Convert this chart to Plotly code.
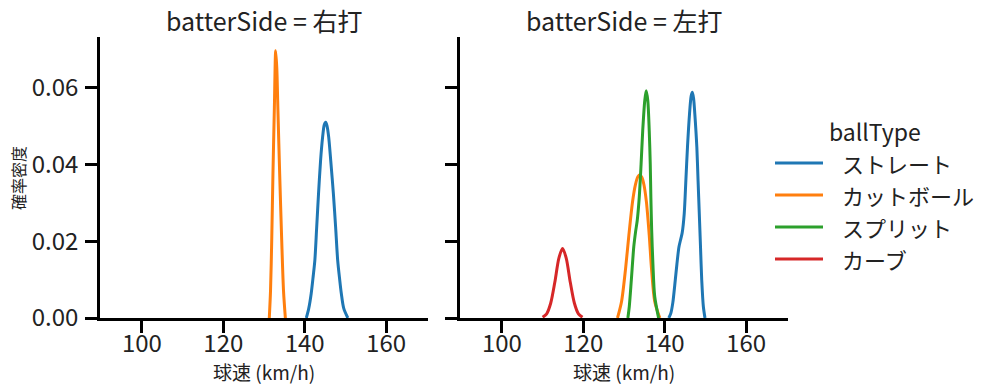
import plotly.graph_objects as go

# ---------------- data ----------------
panels = ["右打", "左打"]
ball_types = ["ストレート", "カットボール", "スプリット", "カーブ"]
colors = ["#1f77b4", "#ff7f0e", "#2ca02c", "#d62728"]

# batterSide = 右打
r_straight_x = [140.4, 141.0, 141.6, 142.1, 142.5, 142.95, 143.4, 143.9, 144.4, 144.8, 145.16,
                145.5, 145.9, 146.4, 147.05, 147.6, 148.1, 148.6, 149.0, 149.6, 150.6]
r_straight_y = [0.0, 0.0025, 0.0064, 0.0110, 0.0151, 0.0237, 0.0324, 0.0410, 0.0471, 0.0503, 0.0510,
                0.0500, 0.0471, 0.0410, 0.0324, 0.0237, 0.0151, 0.0100, 0.0064, 0.0025, 0.0]
r_cut_x = [131.3, 131.6, 131.9, 132.2, 132.55, 132.87, 133.15, 133.4, 133.85, 134.35, 134.8, 135.25]
r_cut_y = [0.0, 0.0070, 0.0203, 0.0376, 0.0549, 0.0696, 0.0650, 0.0549, 0.0376, 0.0203, 0.0070, 0.0]

# batterSide = 左打
l_straight_x = [141.0, 141.5, 142.0, 142.6, 143.0, 143.5, 144.0, 144.3, 144.8, 145.2, 145.6, 146.1,
                146.5, 146.8, 147.1, 147.4, 147.9, 148.2, 148.5, 148.8, 149.1, 149.5, 149.9]
l_straight_y = [0.0, 0.0012, 0.0040, 0.0099, 0.0140, 0.0185, 0.0208, 0.0222, 0.0272, 0.0358, 0.0445, 0.0532,
                0.0578, 0.0588, 0.0572, 0.0532, 0.0445, 0.0358, 0.0272, 0.0185, 0.0099, 0.0030, 0.0]
l_cut_x = [128.4, 129.4, 130.4, 131.2, 132.1, 132.8, 133.4, 133.9, 134.4, 134.9, 135.5, 136.2, 136.75, 137.55, 138.8]
l_cut_y = [0.0, 0.0043, 0.0130, 0.0216, 0.0303, 0.0347, 0.0368, 0.0373, 0.0366, 0.0347, 0.0303, 0.0216, 0.0130, 0.0043, 0.0]
l_split_x = [130.95, 131.3, 131.8, 132.4, 132.85, 133.25, 133.75, 134.2, 134.6, 135.1, 135.45,
             135.85, 136.2, 136.45, 136.6, 136.8, 137.1, 137.55, 138.5]
l_split_y = [0.0, 0.0030, 0.0099, 0.0185, 0.0225, 0.0254, 0.0315, 0.0401, 0.0488, 0.0566, 0.0592,
             0.0566, 0.0488, 0.0401, 0.0315, 0.0229, 0.0142, 0.0056, 0.0]
l_curve_x = [110.0, 111.0, 112.0, 113.0, 114.0, 114.9, 115.8, 116.8, 117.8, 118.8, 119.8]
l_curve_y = [0.0002, 0.0011, 0.0039, 0.0093, 0.0156, 0.0181, 0.0156, 0.0093, 0.0039, 0.0011, 0.0002]

x_ticks = [100, 120, 140, 160]
y_ticks = [0.0, 0.02, 0.04, 0.06]

# ---------------- figure ----------------
W, H = 997, 391
ML, MR, MT, MB = 100, 209, 37, 73
PW, PH = W - ML - MR, H - MT - MB
FONT = "Noto Sans CJK JP"


def px2x(px):
    return (px - ML) / PW


def px2y(py):
    return (H - MB - py) / PH


series = [
    ("x", "y", r_straight_x, r_straight_y, 0),
    ("x", "y", r_cut_x, r_cut_y, 1),
    ("x2", "y2", l_straight_x, l_straight_y, 0),
    ("x2", "y2", l_cut_x, l_cut_y, 1),
    ("x2", "y2", l_split_x, l_split_y, 2),
    ("x2", "y2", l_curve_x, l_curve_y, 3),
]

fig = go.Figure()
for xa, ya, xs, ys, ci in series:
    fig.add_trace(go.Scatter(x=xs, y=ys, xaxis=xa, yaxis=ya, mode="lines",
                             line=dict(color=colors[ci], width=3, shape="spline", smoothing=0.8),
                             name=ball_types[ci], showlegend=False, hoverinfo="skip"))

axis_common = dict(showgrid=False, zeroline=False, showline=True, linecolor="black", linewidth=2.5,
                   ticks="outside", ticklen=12, tickwidth=2.5, tickcolor="black",
                   tickfont=dict(family=FONT, size=24, color="#222222"))

left_dom = [0, px2x(428)]
right_dom = [px2x(460), 1]
xr = [89.7, 170.3]
yr = [0, 0.0732]

fig.update_layout(
    width=W, height=H, margin=dict(l=ML, r=MR, t=MT, b=MB),
    paper_bgcolor="white", plot_bgcolor="white", showlegend=False,
    xaxis=dict(domain=left_dom, range=xr, tickvals=x_ticks, anchor="y", ticklabelstandoff=-10, **axis_common),
    yaxis=dict(domain=[0, 1], range=yr, tickvals=y_ticks, tickformat=".2f", anchor="x",
               ticklabelstandoff=2, **axis_common),
    xaxis2=dict(domain=right_dom, range=xr, tickvals=x_ticks, anchor="y2", ticklabelstandoff=-10, **axis_common),
    yaxis2=dict(domain=[0, 1], range=yr, tickvals=y_ticks, anchor="x2", showticklabels=False, **axis_common),
)

ann = []
# panel titles
for i, p in enumerate(panels):
    cx = (left_dom if i == 0 else right_dom)
    ann.append(dict(text=f"batterSide = {p}", x=(cx[0] + cx[1]) / 2, y=px2y(20), xref="paper", yref="paper",
                    xanchor="center", yanchor="middle", showarrow=False,
                    font=dict(family=FONT, size=25, color="#222222")))
    ann.append(dict(text="球速 (km/h)", x=(cx[0] + cx[1]) / 2, y=px2y(371), xref="paper", yref="paper",
                    xanchor="center", yanchor="middle", showarrow=False,
                    font=dict(family=FONT, size=19, color="#222222")))
ann.append(dict(text="確率密度", x=px2x(18), y=px2y(178), xref="paper", yref="paper", textangle=-90,
                xanchor="center", yanchor="middle", showarrow=False,
                font=dict(family=FONT, size=16, color="#222222")))

# legend (drawn manually)
ann.append(dict(text="ballType", x=px2x(827), y=px2y(131), xref="paper", yref="paper",
                xanchor="left", yanchor="middle", showarrow=False,
                font=dict(family=FONT, size=23, color="#222222")))
shapes = []
for i, name in enumerate(ball_types):
    yy = px2y(163 + 32 * i)
    shapes.append(dict(type="line", xref="paper", yref="paper", x0=px2x(775), x1=px2x(823), y0=yy, y1=yy,
                       line=dict(color=colors[i], width=3)))
    ann.append(dict(text=name, x=px2x(840), y=yy, xref="paper", yref="paper",
                    xanchor="left", yanchor="middle", showarrow=False,
                    font=dict(family=FONT, size=22, color="#222222")))

fig.update_layout(annotations=ann, shapes=shapes)
fig.write_html("out.html", config={"displayModeBar": False},
               post_script="document.body.style.margin='0';document.body.style.overflow='hidden';")
